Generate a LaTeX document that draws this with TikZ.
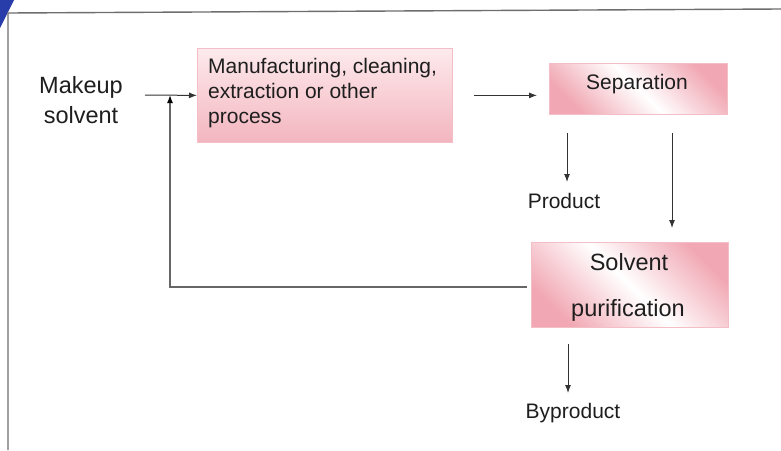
\documentclass[tikz,border=0pt]{standalone}
\usepackage{fontspec}
\setmainfont{Liberation Sans}
\usetikzlibrary{arrows.meta,calc}
\definecolor{pinkA}{RGB}{241,168,180}
\definecolor{pinkL}{RGB}{253,234,236}
\definecolor{pinkB}{RGB}{244,190,198}
\definecolor{txt}{RGB}{30,30,30}
\definecolor{frameGray}{RGB}{110,110,110}
\definecolor{scanblue}{RGB}{40,60,170}
\begin{document}
\begin{tikzpicture}[x=1pt,y=-1pt,
  lbl/.style={font=\fontsize{21}{25}\selectfont, text=txt, inner sep=0pt, anchor=base},
  big/.style={font=\fontsize{23.5}{28}\selectfont, text=txt, inner sep=0pt, anchor=base},
  box/.style={draw=pinkB, line width=0.8pt, inner sep=0pt, anchor=north west},
  arr/.style={draw=black!80, line width=1pt, -{Latex[length=8pt,width=6pt]}},
  fb/.style={draw=black!60, line width=1.4pt, -{Latex[length=8pt,width=6pt,color=black]}},
  framestyle/.style={draw=frameGray, line width=1.4pt}]
\useasboundingbox (0,0) rectangle (781,450);
\fill[white] (0,0) rectangle (781,450);
% scan corner and frame
\fill[scanblue] (0,0) -- (14,0) .. controls (9,10) .. (0,28) -- cycle;
\draw[framestyle] (781,9) -- (8,13) -- (8,450);

% boxes
\node[box, top color=pinkL, bottom color=pinkA!85, minimum width=255pt, minimum height=94pt] (b1) at (197,48) {};
\node[box, left color=pinkA, right color=pinkA, middle color=white, shading angle=135, minimum width=178pt, minimum height=51pt] (sep) at (549,63) {};
\node[box, left color=pinkA, right color=pinkA, middle color=white, shading angle=135, minimum width=197pt, minimum height=85pt] (sp) at (531,242) {};

% texts
\node[big] (mk1) at (81,93) {Makeup};
\node[big] (mk2) at (81,123) {solvent};
\node[lbl, anchor=base west] (t1) at (208,73) {Manufacturing, cleaning,};
\node[lbl, anchor=base west] (t2) at (208,98) {extraction or other};
\node[lbl, anchor=base west] (t3) at (208,123) {process};
\node[lbl] (septxt) at (637,89) {Separation};
\node[big] (sp1) at (629,270) {Solvent};
\node[big] (sp2) at (628,316) {purification};
\node[lbl] (prod) at (564,208) {Product};
\node[lbl] (byp) at (573,418) {Byproduct};

% connectors
\coordinate (mk) at (145,95);
\coordinate (jn) at (170,95);
\coordinate (fbS) at (527,287);
\coordinate (pa) at (567,182);
\coordinate (pb) at (672,0);
\coordinate (pc) at (568,393);
\draw[arr] (mk) -- (b1.west);
\draw[arr, shorten <=21pt, shorten >=12pt] (b1.east) -- (sep.west |- b1.east);
\draw[arr, shorten <=18pt] (sep.south -| pa) -- (pa);
\draw[arr, shorten <=18pt, shorten >=14pt] (sep.south -| pb) -- (sp.north -| pb);
\draw[arr, shorten <=16pt] (sp.south -| pc) -- (pc);
\draw[fb] (fbS) -- (jn |- fbS) -- (jn);
\end{tikzpicture}
\end{document}
